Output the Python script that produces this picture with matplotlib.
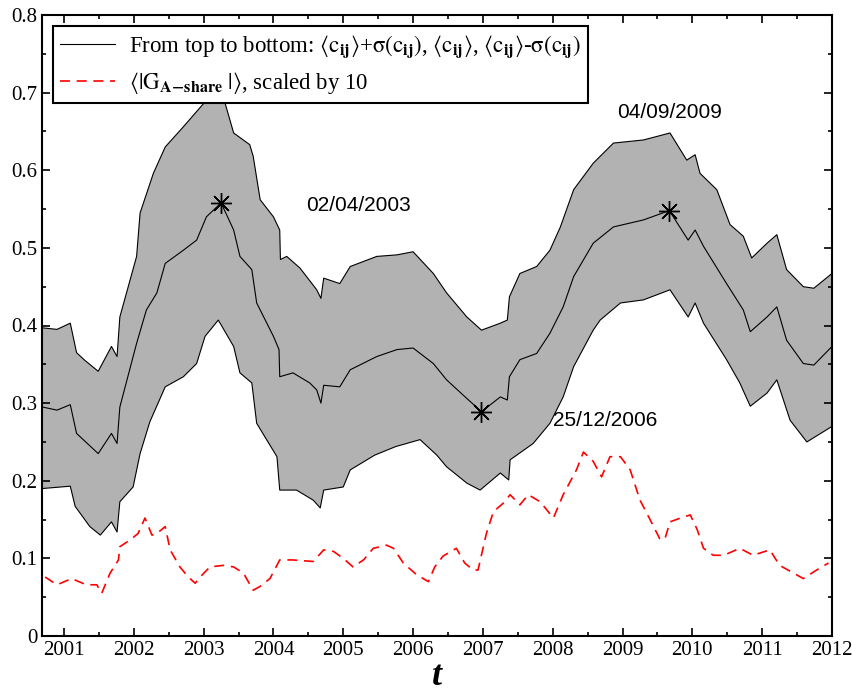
import numpy as np
import matplotlib
matplotlib.use('Agg')
import matplotlib.pyplot as plt
from matplotlib.ticker import MultipleLocator

plt.rcParams['font.family'] = ['Liberation Serif', 'DejaVu Serif']
plt.rcParams['mathtext.fontset'] = 'stix'

# upper curve: <c_ij> + sigma(c_ij)
upper_t = [2000.69, 2000.90, 2001.09, 2001.18, 2001.30, 2001.49, 2001.68, 2001.76, 2001.80,
           2002.04, 2002.09, 2002.28, 2002.45, 2002.71, 2003.00, 2003.15, 2003.28, 2003.43,
           2003.66, 2003.71, 2003.81, 2004.00, 2004.09, 2004.10, 2004.19, 2004.38, 2004.62,
           2004.68, 2004.72, 2004.95, 2005.10, 2005.48, 2005.77, 2006.00, 2006.29, 2006.48,
           2006.77, 2006.98, 2007.25, 2007.35, 2007.38, 2007.53, 2007.77, 2007.96, 2008.11,
           2008.30, 2008.58, 2008.87, 2009.30, 2009.68, 2009.92, 2010.04, 2010.11, 2010.35,
           2010.54, 2010.73, 2010.85, 2011.07, 2011.21, 2011.35, 2011.59, 2011.74, 2012.00]
upper_v = [0.397, 0.395, 0.403, 0.365, 0.355, 0.341, 0.373, 0.360, 0.411,
           0.489, 0.545, 0.596, 0.630, 0.656, 0.686, 0.700, 0.695, 0.648,
           0.633, 0.618, 0.562, 0.540, 0.523, 0.485, 0.489, 0.474, 0.446,
           0.435, 0.461, 0.454, 0.476, 0.489, 0.491, 0.495, 0.467, 0.442,
           0.411, 0.394, 0.403, 0.407, 0.437, 0.467, 0.476, 0.497, 0.527,
           0.575, 0.609, 0.635, 0.639, 0.648, 0.613, 0.620, 0.596, 0.575,
           0.530, 0.515, 0.487, 0.506, 0.517, 0.472, 0.450, 0.448, 0.467]

# middle curve: <c_ij>
mid_t = [2000.69, 2000.90, 2001.09, 2001.18, 2001.49, 2001.68, 2001.76, 2001.80, 2002.04,
         2002.18, 2002.33, 2002.45, 2002.71, 2002.90, 2003.04, 2003.25, 2003.43, 2003.52,
         2003.69, 2003.76, 2004.00, 2004.08, 2004.09, 2004.28, 2004.52, 2004.62, 2004.68,
         2004.72, 2004.95, 2005.10, 2005.48, 2005.77, 2006.00, 2006.29, 2006.48, 2006.77,
         2006.98, 2007.25, 2007.35, 2007.38, 2007.53, 2007.77, 2007.96, 2008.15, 2008.30,
         2008.58, 2008.87, 2009.30, 2009.67, 2009.94, 2010.04, 2010.16, 2010.49, 2010.73,
         2010.83, 2011.07, 2011.21, 2011.35, 2011.59, 2011.74, 2012.00]
mid_v = [0.295, 0.291, 0.298, 0.261, 0.235, 0.261, 0.248, 0.295, 0.377,
         0.420, 0.442, 0.480, 0.497, 0.510, 0.540, 0.558, 0.523, 0.489,
         0.472, 0.429, 0.386, 0.369, 0.334, 0.339, 0.326, 0.317, 0.300,
         0.323, 0.321, 0.343, 0.360, 0.369, 0.371, 0.351, 0.330, 0.306,
         0.289, 0.308, 0.304, 0.334, 0.356, 0.364, 0.390, 0.424, 0.463,
         0.506, 0.527, 0.536, 0.548, 0.510, 0.523, 0.502, 0.454, 0.420,
         0.392, 0.411, 0.424, 0.381, 0.351, 0.349, 0.373]

# lower curve: <c_ij> - sigma(c_ij)
lower_t = [2000.69, 2001.09, 2001.16, 2001.37, 2001.52, 2001.68, 2001.76, 2001.80, 2001.99,
           2002.09, 2002.23, 2002.45, 2002.71, 2002.90, 2003.02, 2003.21, 2003.43, 2003.52,
           2003.69, 2003.76, 2004.05, 2004.09, 2004.33, 2004.57, 2004.67, 2004.72, 2005.00,
           2005.10, 2005.45, 2005.75, 2006.10, 2006.34, 2006.48, 2006.77, 2006.96, 2007.25,
           2007.37, 2007.39, 2007.72, 2007.96, 2008.15, 2008.30, 2008.58, 2008.68, 2008.97,
           2009.30, 2009.68, 2009.94, 2010.04, 2010.16, 2010.49, 2010.68, 2010.83, 2011.07,
           2011.21, 2011.40, 2011.64, 2012.00]
lower_v = [0.190, 0.193, 0.167, 0.141, 0.130, 0.147, 0.134, 0.173, 0.192,
           0.235, 0.276, 0.321, 0.334, 0.351, 0.386, 0.407, 0.373, 0.339,
           0.326, 0.274, 0.231, 0.188, 0.188, 0.175, 0.165, 0.188, 0.192,
           0.214, 0.233, 0.244, 0.253, 0.233, 0.218, 0.197, 0.188, 0.210,
           0.201, 0.227, 0.248, 0.274, 0.308, 0.347, 0.394, 0.407, 0.429,
           0.433, 0.446, 0.411, 0.429, 0.403, 0.356, 0.326, 0.296, 0.313,
           0.330, 0.278, 0.250, 0.270]

# <|G_A-share|> scaled by 10
g_t = [2000.73, 2000.90, 2001.11, 2001.32, 2001.47, 2001.54, 2001.66, 2001.78, 2001.80,
       2001.95, 2002.06, 2002.16, 2002.26, 2002.33, 2002.45, 2002.52, 2002.66, 2002.78,
       2002.88, 2002.95, 2003.09, 2003.28, 2003.43, 2003.57, 2003.71, 2003.81, 2003.95,
       2004.09, 2004.28, 2004.57, 2004.72, 2004.86, 2005.00, 2005.14, 2005.29, 2005.43,
       2005.62, 2005.72, 2005.86, 2006.05, 2006.22, 2006.31, 2006.43, 2006.62, 2006.74,
       2006.86, 2006.93, 2007.05, 2007.15, 2007.29, 2007.39, 2007.53, 2007.65, 2007.82,
       2008.01, 2008.15, 2008.34, 2008.44, 2008.58, 2008.70, 2008.82, 2008.97, 2009.11,
       2009.25, 2009.40, 2009.54, 2009.61, 2009.68, 2009.83, 2009.97, 2010.07, 2010.16,
       2010.30, 2010.45, 2010.68, 2010.87, 2011.11, 2011.25, 2011.45, 2011.59, 2011.78,
       2011.95]
g_v = [0.076, 0.066, 0.074, 0.066, 0.066, 0.055, 0.081, 0.098, 0.115,
       0.124, 0.132, 0.152, 0.130, 0.132, 0.141, 0.111, 0.089, 0.076,
       0.068, 0.076, 0.089, 0.091, 0.089, 0.081, 0.059, 0.064, 0.074,
       0.098, 0.098, 0.096, 0.111, 0.109, 0.100, 0.089, 0.098, 0.113,
       0.117, 0.113, 0.094, 0.079, 0.070, 0.089, 0.103, 0.113, 0.094,
       0.085, 0.085, 0.132, 0.160, 0.171, 0.182, 0.169, 0.182, 0.173,
       0.152, 0.182, 0.214, 0.237, 0.225, 0.205, 0.231, 0.231, 0.214,
       0.175, 0.149, 0.124, 0.126, 0.147, 0.152, 0.156, 0.137, 0.113,
       0.104, 0.104, 0.113, 0.104, 0.111, 0.091, 0.081, 0.074, 0.085,
       0.094]

# marked dates on the mean curve
star_t = [2003.25, 2006.98, 2009.67]
star_v = [0.558, 0.289, 0.548]
star_labels = ['02/04/2003', '25/12/2006', '04/09/2009']
label_pos = [(2004.47, 0.555), (2008.0, 0.277), (2008.92, 0.674)]

fig = plt.figure(figsize=(8.52, 7.0), dpi=100)
ax = fig.add_axes([0.0493, 0.0914, 0.9272, 0.8872])

# grey band between upper and lower curve
band_x = np.concatenate([upper_t, lower_t[::-1]])
band_y = np.concatenate([upper_v, lower_v[::-1]])
ax.fill(band_x, band_y, color='#b2b2b2', lw=0, zorder=1)

c = r'\langle\mathrm{c}_{\mathbf{ij}}\rangle'
s = r'\mathrm{\sigma}(\mathrm{c}_{\mathbf{ij}})'
ax.plot(upper_t, upper_v, color='black', lw=0.8, zorder=2,
        label='From top to bottom: $' + c + '$+$' + s + '$, $' + c + '$, $' + c + '$-$' + s + '$')
ax.plot(mid_t, mid_v, color='black', lw=0.8, zorder=2)
ax.plot(lower_t, lower_v, color='black', lw=0.8, zorder=2)
ax.plot(g_t, g_v, color='red', lw=1.2, dashes=(6, 4), zorder=2,
        label=r'$\langle|\mathrm{G}_{\mathbf{A\!-\!share}}\ |\rangle$, scaled by 10')

ax.plot(star_t, star_v, linestyle='none', marker=(8, 2, 0), ms=15, mew=1.0,
        color='black', zorder=3)
for lab, (tx, ty) in zip(star_labels, label_pos):
    ax.text(tx, ty, lab, fontsize=15, family='Liberation Sans', va='center', ha='left')

ax.set_xlim(2000.685, 2012)
ax.set_ylim(0, 0.8)
ax.xaxis.set_major_locator(MultipleLocator(1))
ax.xaxis.set_minor_locator(MultipleLocator(0.5))
ax.yaxis.set_major_locator(MultipleLocator(0.1))
ax.yaxis.set_minor_locator(MultipleLocator(0.05))
ax.set_yticks(np.arange(0, 0.81, 0.1))
ax.set_yticklabels(['0', '0.1', '0.2', '0.3', '0.4', '0.5', '0.6', '0.7', '0.8'])
ax.tick_params(which='both', direction='in', top=True, right=True, labelsize=15)
ax.tick_params(which='major', length=6, width=1.2)
ax.tick_params(which='minor', length=3, width=1.2)
for sp in ax.spines.values():
    sp.set_linewidth(1.5)

ax.set_xlabel('t', fontsize=26, fontweight='bold', style='italic', labelpad=0)

leg = ax.legend(loc='upper left', fontsize=16.5, handlelength=2.4, handletextpad=0.6,
                frameon=True, fancybox=False, borderaxespad=0.5, borderpad=0.3,
                labelspacing=0.45)
leg.get_frame().set_edgecolor('black')
leg.get_frame().set_linewidth(1.5)
leg.get_frame().set_alpha(1)

fig.savefig('out.png', dpi=100)
